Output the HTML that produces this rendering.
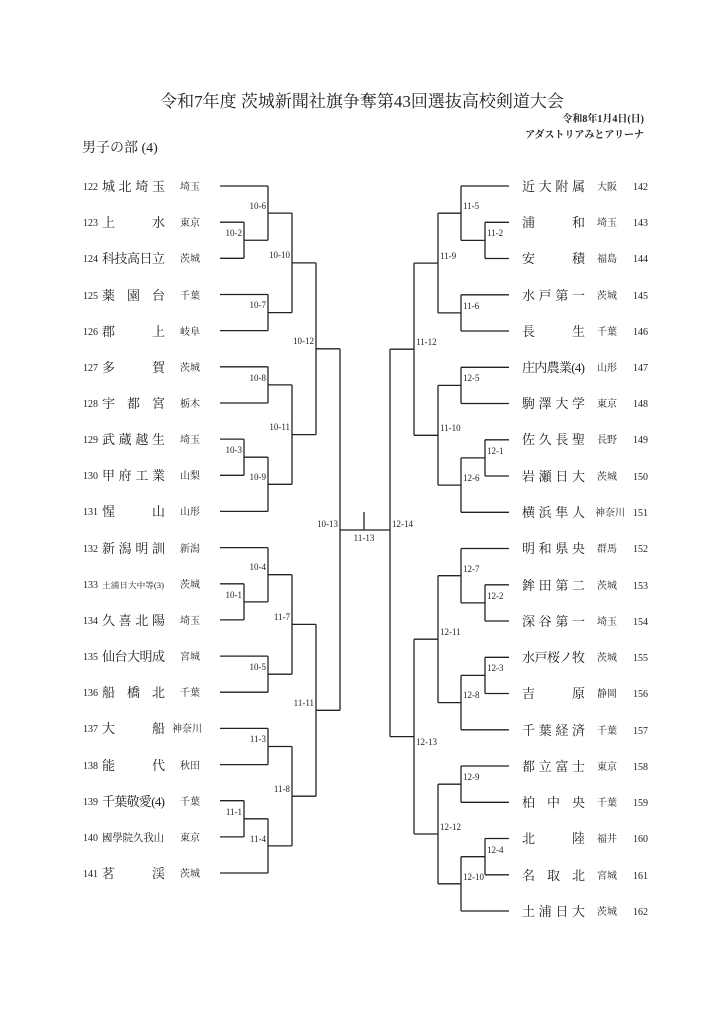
<!DOCTYPE html>
<html><head><meta charset="utf-8"><style>
html,body{margin:0;padding:0;background:#fff;}
svg{display:block;}
text{font-family:"Liberation Serif","Noto Serif CJK SC",serif;fill:#222;}
.n{font-size:13px;}
.s{font-size:10px;}
.num{font-size:10px;}
.lb{font-size:9px;}
</style></head><body>
<svg width="724" height="1024" viewBox="0 0 724 1024" xmlns="http://www.w3.org/2000/svg">
<text x="362" y="107" text-anchor="middle" style="font-size:17px">令和7年度 茨城新聞社旗争奪第43回選抜高校剣道大会</text>
<text x="644" y="122" text-anchor="end" style="font-size:10px;font-weight:bold">令和8年1月4日(日)</text>
<text x="644" y="138" text-anchor="end" style="font-size:10px;font-weight:bold">アダストリアみとアリーナ</text>
<text x="82" y="152" style="font-size:14px">男子の部 (4)</text>

<g stroke="#222" stroke-width="1.3" fill="none">
<!-- left team lines -->
<path d="M220 186H268 M220 222.2H244 M220 258.3H244 M220 294.5H268 M220 330.6H268 M220 366.8H268 M220 403H268 M220 439.1H244 M220 475.3H244 M220 511.4H268 M220 547.6H268 M220 583.8H244 M220 619.9H244 M220 656.1H268 M220 692.2H268 M220 728.4H268 M220 764.6H268 M220 800.7H244 M220 836.9H244 M220 873H268"/>
<!-- left matches -->
<path d="M244 222.2V258.3 M244 240.25H268
M268 186V240.25 M268 213.1H292
M268 294.5V330.6 M268 312.6H292
M292 213.1V312.6 M292 262.9H316
M268 366.8V403 M268 384.9H292
M244 439.1V475.3 M244 457.2H268
M268 457.2V511.4 M268 484.3H292
M292 384.9V484.3 M292 434.6H316
M316 262.9V434.6 M316 348.8H340
M244 583.8V619.9 M244 601.9H268
M268 547.6V601.9 M268 574.7H292
M268 656.1V692.2 M268 674.2H292
M292 574.7V674.2 M292 624.4H316
M268 728.4V764.6 M268 746.5H292
M244 800.7V836.9 M244 818.8H268
M268 818.8V873 M268 845.9H292
M292 746.5V845.9 M292 796.2H316
M316 624.4V796.2 M316 710.3H340
M340 348.8V710.3"/>
<!-- final -->
<path d="M340 530H390 M364 512V530"/>
<!-- right team lines -->
<path d="M509 186H461 M509 222.3H485 M509 258.5H485 M509 294.8H461 M509 331H461 M509 367.3H461 M509 403.5H461 M509 439.8H485 M509 476H485 M509 512.3H461 M509 548.5H461 M509 584.8H485 M509 621H485 M509 657.3H485 M509 693.5H485 M509 729.8H461 M509 766H461 M509 802.3H461 M509 838.5H485 M509 874.8H485 M509 911H461"/>
<!-- right matches -->
<path d="M485 222.3V258.5 M485 240.4H461
M461 186V240.4 M461 213.2H438
M461 294.8V331 M461 312.9H438
M438 213.2V312.9 M438 263.1H414
M461 367.3V403.5 M461 385.4H438
M485 439.8V476 M485 457.9H461
M461 457.9V512.3 M461 485.1H438
M438 385.4V485.1 M438 435.3H414
M414 263.1V435.3 M414 349.2H390
M485 584.8V621 M485 602.9H461
M461 548.5V602.9 M461 575.7H438
M485 657.3V693.5 M485 675.4H461
M461 675.4V729.8 M461 702.6H438
M438 575.7V702.6 M438 639.2H414
M461 766V802.3 M461 784.2H438
M485 838.5V874.8 M485 856.7H461
M461 856.7V911 M461 883.8H438
M438 784.2V883.8 M438 834H414
M414 639.2V834 M414 736.6H390
M390 349.2V736.6"/>
</g>

<!-- left labels -->
<g class="lb" text-anchor="end">
<text class="lb" x="242" y="236">10-2</text>
<text class="lb" x="266" y="209">10-6</text>
<text class="lb" x="266" y="308">10-7</text>
<text class="lb" x="290" y="258">10-10</text>
<text class="lb" x="266" y="381">10-8</text>
<text class="lb" x="242" y="453">10-3</text>
<text class="lb" x="266" y="480">10-9</text>
<text class="lb" x="290" y="430">10-11</text>
<text class="lb" x="314" y="344">10-12</text>
<text class="lb" x="242" y="598">10-1</text>
<text class="lb" x="266" y="570">10-4</text>
<text class="lb" x="266" y="670">10-5</text>
<text class="lb" x="290" y="620">11-7</text>
<text class="lb" x="266" y="742">11-3</text>
<text class="lb" x="242" y="815">11-1</text>
<text class="lb" x="266" y="842">11-4</text>
<text class="lb" x="290" y="792">11-8</text>
<text class="lb" x="314" y="706">11-11</text>
<text class="lb" x="338" y="527">10-13</text>
</g>
<text class="lb" x="364" y="541" text-anchor="middle">11-13</text>
<!-- right labels -->
<g>
<text class="lb" x="487" y="236">11-2</text>
<text class="lb" x="463" y="209">11-5</text>
<text class="lb" x="463" y="309">11-6</text>
<text class="lb" x="440" y="259">11-9</text>
<text class="lb" x="463" y="381">12-5</text>
<text class="lb" x="487" y="454">12-1</text>
<text class="lb" x="463" y="481">12-6</text>
<text class="lb" x="440" y="431">11-10</text>
<text class="lb" x="416" y="345">11-12</text>
<text class="lb" x="392" y="527">12-14</text>
<text class="lb" x="487" y="599">12-2</text>
<text class="lb" x="463" y="572">12-7</text>
<text class="lb" x="487" y="671">12-3</text>
<text class="lb" x="463" y="698">12-8</text>
<text class="lb" x="440" y="635">12-11</text>
<text class="lb" x="463" y="780">12-9</text>
<text class="lb" x="487" y="853">12-4</text>
<text class="lb" x="463" y="880">12-10</text>
<text class="lb" x="440" y="830">12-12</text>
<text class="lb" x="416" y="745">12-13</text>
</g>

<!-- left teams -->
<g>
<text class="num" x="83" y="190">122</text><text class="n" x="102" y="191" textLength="63" lengthAdjust="spacing">城北埼玉</text><text class="s" x="190" y="190" text-anchor="middle">埼玉</text>
<text class="num" x="83" y="226">123</text><text class="n" x="102" y="227" textLength="63" lengthAdjust="spacing">上水</text><text class="s" x="190" y="226" text-anchor="middle">東京</text>
<text class="num" x="83" y="262">124</text><text class="n" x="102" y="263" textLength="63" lengthAdjust="spacing">科技高日立</text><text class="s" x="190" y="262" text-anchor="middle">茨城</text>
<text class="num" x="83" y="299">125</text><text class="n" x="102" y="300" textLength="63" lengthAdjust="spacing">薬園台</text><text class="s" x="190" y="299" text-anchor="middle">千葉</text>
<text class="num" x="83" y="335">126</text><text class="n" x="102" y="336" textLength="63" lengthAdjust="spacing">郡上</text><text class="s" x="190" y="335" text-anchor="middle">岐阜</text>
<text class="num" x="83" y="371">127</text><text class="n" x="102" y="372" textLength="63" lengthAdjust="spacing">多賀</text><text class="s" x="190" y="371" text-anchor="middle">茨城</text>
<text class="num" x="83" y="407">128</text><text class="n" x="102" y="408" textLength="63" lengthAdjust="spacing">宇都宮</text><text class="s" x="190" y="407" text-anchor="middle">栃木</text>
<text class="num" x="83" y="443">129</text><text class="n" x="102" y="444" textLength="63" lengthAdjust="spacing">武蔵越生</text><text class="s" x="190" y="443" text-anchor="middle">埼玉</text>
<text class="num" x="83" y="479">130</text><text class="n" x="102" y="480" textLength="63" lengthAdjust="spacing">甲府工業</text><text class="s" x="190" y="479" text-anchor="middle">山梨</text>
<text class="num" x="83" y="515">131</text><text class="n" x="102" y="516" textLength="63" lengthAdjust="spacing">惺山</text><text class="s" x="190" y="515" text-anchor="middle">山形</text>
<text class="num" x="83" y="552">132</text><text class="n" x="102" y="553" textLength="63" lengthAdjust="spacing">新潟明訓</text><text class="s" x="190" y="552" text-anchor="middle">新潟</text>
<text class="num" x="83" y="588">133</text><text x="102" y="588" style="font-size:8px" textLength="62" lengthAdjust="spacingAndGlyphs">土浦日大中等(3)</text><text class="s" x="190" y="588" text-anchor="middle">茨城</text>
<text class="num" x="83" y="624">134</text><text class="n" x="102" y="625" textLength="63" lengthAdjust="spacing">久喜北陽</text><text class="s" x="190" y="624" text-anchor="middle">埼玉</text>
<text class="num" x="83" y="660">135</text><text class="n" x="102" y="661" textLength="63" lengthAdjust="spacing">仙台大明成</text><text class="s" x="190" y="660" text-anchor="middle">宮城</text>
<text class="num" x="83" y="696">136</text><text class="n" x="102" y="697" textLength="63" lengthAdjust="spacing">船橋北</text><text class="s" x="190" y="696" text-anchor="middle">千葉</text>
<text class="num" x="83" y="732">137</text><text class="n" x="102" y="733" textLength="63" lengthAdjust="spacing">大船</text><text class="s" x="187" y="732" text-anchor="middle">神奈川</text>
<text class="num" x="83" y="769">138</text><text class="n" x="102" y="770" textLength="63" lengthAdjust="spacing">能代</text><text class="s" x="190" y="769" text-anchor="middle">秋田</text>
<text class="num" x="83" y="805">139</text><text class="n" x="102" y="806" textLength="63" lengthAdjust="spacing">千葉敬愛(4)</text><text class="s" x="190" y="805" text-anchor="middle">千葉</text>
<text class="num" x="83" y="841">140</text><text x="102" y="841" style="font-size:10.5px" textLength="62" lengthAdjust="spacingAndGlyphs">國學院久我山</text><text class="s" x="190" y="841" text-anchor="middle">東京</text>
<text class="num" x="83" y="877">141</text><text class="n" x="102" y="878" textLength="63" lengthAdjust="spacing">茗渓</text><text class="s" x="190" y="877" text-anchor="middle">茨城</text>
</g>

<!-- right teams -->
<g>
<text class="n" x="522" y="191" textLength="63" lengthAdjust="spacing">近大附属</text><text class="s" x="607" y="190" text-anchor="middle">大阪</text><text class="num" x="633" y="190">142</text>
<text class="n" x="522" y="227" textLength="63" lengthAdjust="spacing">浦和</text><text class="s" x="607" y="226" text-anchor="middle">埼玉</text><text class="num" x="633" y="226">143</text>
<text class="n" x="522" y="263" textLength="63" lengthAdjust="spacing">安積</text><text class="s" x="607" y="262" text-anchor="middle">福島</text><text class="num" x="633" y="262">144</text>
<text class="n" x="522" y="300" textLength="63" lengthAdjust="spacing">水戸第一</text><text class="s" x="607" y="299" text-anchor="middle">茨城</text><text class="num" x="633" y="299">145</text>
<text class="n" x="522" y="336" textLength="63" lengthAdjust="spacing">長生</text><text class="s" x="607" y="335" text-anchor="middle">千葉</text><text class="num" x="633" y="335">146</text>
<text class="n" x="522" y="372" textLength="63" lengthAdjust="spacing">庄内農業(4)</text><text class="s" x="607" y="371" text-anchor="middle">山形</text><text class="num" x="633" y="371">147</text>
<text class="n" x="522" y="408" textLength="63" lengthAdjust="spacing">駒澤大学</text><text class="s" x="607" y="407" text-anchor="middle">東京</text><text class="num" x="633" y="407">148</text>
<text class="n" x="522" y="444" textLength="63" lengthAdjust="spacing">佐久長聖</text><text class="s" x="607" y="443" text-anchor="middle">長野</text><text class="num" x="633" y="443">149</text>
<text class="n" x="522" y="481" textLength="63" lengthAdjust="spacing">岩瀬日大</text><text class="s" x="607" y="480" text-anchor="middle">茨城</text><text class="num" x="633" y="480">150</text>
<text class="n" x="522" y="517" textLength="63" lengthAdjust="spacing">横浜隼人</text><text class="s" x="610" y="516" text-anchor="middle">神奈川</text><text class="num" x="633" y="516">151</text>
<text class="n" x="522" y="553" textLength="63" lengthAdjust="spacing">明和県央</text><text class="s" x="607" y="552" text-anchor="middle">群馬</text><text class="num" x="633" y="552">152</text>
<text class="n" x="522" y="590" textLength="63" lengthAdjust="spacing">鉾田第二</text><text class="s" x="607" y="589" text-anchor="middle">茨城</text><text class="num" x="633" y="589">153</text>
<text class="n" x="522" y="626" textLength="63" lengthAdjust="spacing">深谷第一</text><text class="s" x="607" y="625" text-anchor="middle">埼玉</text><text class="num" x="633" y="625">154</text>
<text class="n" x="522" y="662" textLength="63" lengthAdjust="spacing">水戸桜ノ牧</text><text class="s" x="607" y="661" text-anchor="middle">茨城</text><text class="num" x="633" y="661">155</text>
<text class="n" x="522" y="698" textLength="63" lengthAdjust="spacing">吉原</text><text class="s" x="607" y="697" text-anchor="middle">静岡</text><text class="num" x="633" y="697">156</text>
<text class="n" x="522" y="735" textLength="63" lengthAdjust="spacing">千葉経済</text><text class="s" x="607" y="734" text-anchor="middle">千葉</text><text class="num" x="633" y="734">157</text>
<text class="n" x="522" y="771" textLength="63" lengthAdjust="spacing">都立富士</text><text class="s" x="607" y="770" text-anchor="middle">東京</text><text class="num" x="633" y="770">158</text>
<text class="n" x="522" y="807" textLength="63" lengthAdjust="spacing">柏中央</text><text class="s" x="607" y="806" text-anchor="middle">千葉</text><text class="num" x="633" y="806">159</text>
<text class="n" x="522" y="843" textLength="63" lengthAdjust="spacing">北陸</text><text class="s" x="607" y="842" text-anchor="middle">福井</text><text class="num" x="633" y="842">160</text>
<text class="n" x="522" y="880" textLength="63" lengthAdjust="spacing">名取北</text><text class="s" x="607" y="879" text-anchor="middle">宮城</text><text class="num" x="633" y="879">161</text>
<text class="n" x="522" y="916" textLength="63" lengthAdjust="spacing">土浦日大</text><text class="s" x="607" y="915" text-anchor="middle">茨城</text><text class="num" x="633" y="915">162</text>
</g>
</svg>
</body></html>
